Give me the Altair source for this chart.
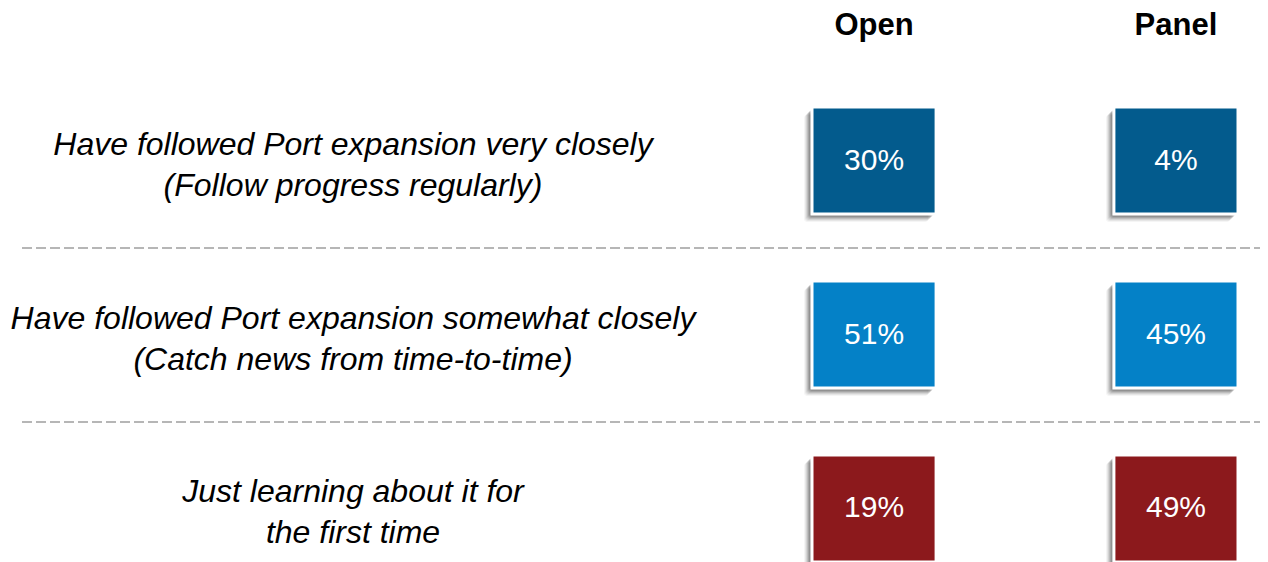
import altair as alt
import pandas as pd

# ---- data ----
row_labels = [
    "Have followed Port expansion very closely\n(Follow progress regularly)",
    "Have followed Port expansion somewhat closely\n(Catch news from time-to-time)",
    "Just learning about it for\nthe first time",
]
row_keys = ["very", "somewhat", "learning"]
groups = ["Open", "Panel"]
open_vals = [30, 51, 19]
panel_vals = [4, 45, 49]
row_colors = ["#035B8D", "#0481C7", "#8C191C"]

recs = []
for k, o, p in zip(row_keys, open_vals, panel_vals):
    recs.append({"row": k, "group": "Open", "value": o, "txt": f"{o}%"})
    recs.append({"row": k, "group": "Panel", "value": p, "txt": f"{p}%"})
df = pd.DataFrame(recs)
labels_df = pd.DataFrame({"row": row_keys, "label": [l.split("\n") for l in row_labels]})
headers_df = pd.DataFrame({"group": groups})
sep_df = pd.DataFrame({"row": row_keys[1:]})

FONT = "Liberation Sans"
xs = alt.Scale(domain=groups, range=[804, 1230], paddingInner=0.589, paddingOuter=0)
ys = alt.Scale(domain=row_keys, range=[99, 554], paddingInner=0.385, paddingOuter=0)
X = alt.X("group:N", scale=xs, axis=None)
Y = alt.Y("row:N", scale=ys, axis=None, sort=row_keys)

shadows = [
    alt.Chart(df).mark_rect(color="#000000", opacity=op, xOffset=dx, yOffset=dy, cornerRadius=3)
    .encode(x=X, y=Y)
    for dx, dy, op in [(-8, 8, 0.04), (-7, 7, 0.06), (-6, 6, 0.08), (-5, 5, 0.1), (-4, 4, 0.12), (-3, 3, 0.12)]
]

boxes = alt.Chart(df).mark_rect(stroke="white", strokeWidth=3).encode(
    x=X, y=Y,
    color=alt.Color("row:N", scale=alt.Scale(domain=row_keys, range=row_colors), legend=None),
)

box_text = alt.Chart(df).mark_text(
    font=FONT, fontSize=30, color="white", align="center", baseline="middle"
).encode(x=X, y=Y, text="txt:N")

headers = alt.Chart(headers_df).mark_text(
    font=FONT, fontSize=31, fontWeight="bold", color="black", align="center", baseline="middle"
).encode(x=X, y=alt.value(18), text="group:N")

row_text = alt.Chart(labels_df).mark_text(
    font=FONT, fontSize=32, fontStyle="italic", color="black", align="center",
    baseline="middle", lineHeight=41, dy=-16
).encode(x=alt.value(345), y=Y, text="label")

seps = alt.Chart(sep_df).mark_rule(
    color="#9E9E9E", strokeWidth=1.3, strokeDash=[10, 4], yOffset=-33
).encode(y=alt.Y("row:N", scale=ys, axis=None, sort=row_keys, bandPosition=0),
         x=alt.value(14), x2=alt.value(1260))

chart = alt.layer(*shadows, boxes, box_text, headers, row_text, seps).properties(
    width=1252, height=554, padding=0, autosize=alt.AutoSizeParams(type="none")
).configure_view(stroke=None)

chart.save("out.html", embed_options={"renderer": "svg", "actions": False})
